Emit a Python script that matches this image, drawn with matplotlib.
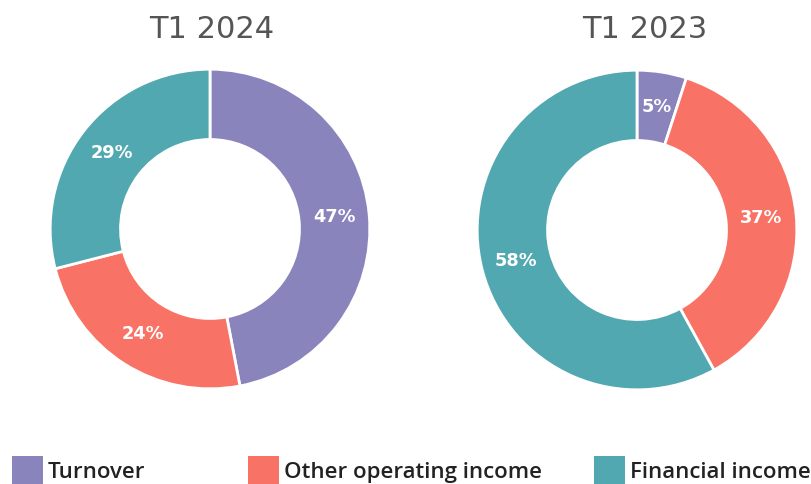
import numpy as np
import matplotlib.pyplot as plt
from matplotlib.patches import Rectangle

categories = ["Turnover", "Other operating income", "Financial income"]
colors = ["#8A84BD", "#F87366", "#52A8B0"]
titles = ["T1 2024", "T1 2023"]
values_2024 = [47, 24, 29]
values_2023 = [5, 37, 58]

plt.rcParams["font.family"] = ["DejaVu Sans"]

W, H = 812, 484
fig = plt.figure(figsize=(W / 100, H / 100), dpi=100)


def add_donut(cx, cy, r, values):
    ax = fig.add_axes([(cx - r) / W, (H - cy - r) / H, 2 * r / W, 2 * r / H])
    ax.pie(values, colors=colors, startangle=90, counterclock=False, radius=1.0,
           wedgeprops=dict(width=0.44, edgecolor="white", linewidth=2))
    ax.set_aspect("equal")
    ax.set_xlim(-1.02, 1.02)
    ax.set_ylim(-1.02, 1.02)
    total = sum(values)
    angle = 90.0
    for v in values:
        sweep = 360.0 * v / total
        mid = np.deg2rad(angle - sweep / 2)
        angle -= sweep
        ax.text(0.78 * np.cos(mid), 0.78 * np.sin(mid), f"{v}%", ha="center", va="center",
                color="white", fontsize=12.8, fontweight="bold")
    return ax


add_donut(210, 229, 163, values_2024)
add_donut(637, 230, 163, values_2023)

fig.text(212 / W, 1 - 29 / H, titles[0], ha="center", va="center", fontsize=22, color="#555555")
fig.text(645 / W, 1 - 29 / H, titles[1], ha="center", va="center", fontsize=22, color="#555555")

# legend drawn by hand, squares run off the bottom edge as in the reference
leg_x = [12, 248, 594]
for x, c, name in zip(leg_x, colors, categories):
    fig.patches.append(Rectangle((x / W, -10 / H), 31 / W, 38 / H, transform=fig.transFigure,
                                 facecolor=c, edgecolor="none"))
    fig.text((x + 36) / W, 6 / H, name, ha="left", va="baseline", fontsize=16,
             fontweight="semibold", color="#222222", family=["Open Sans", "DejaVu Sans"])

fig.savefig("out.png", dpi=100)
